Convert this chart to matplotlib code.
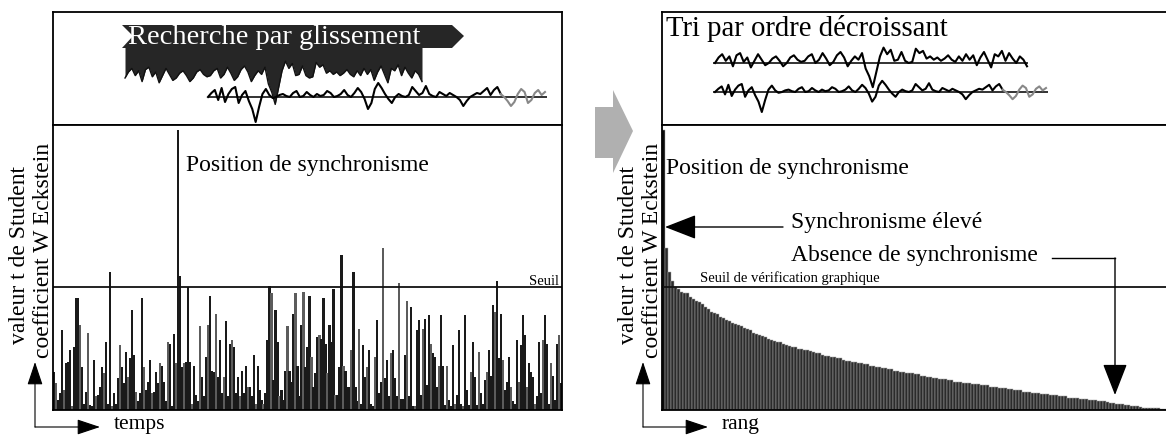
import matplotlib.pyplot as plt
import matplotlib.patches as mpatches
import numpy as np

W, H = 1166, 436
plt.rcParams['font.family'] = ['Liberation Serif', 'DejaVu Serif']

# valeurs t de Student par position (seuil = 1)
temps_values = [
    0.31, 0.22, 0.08, 0.14, 0.65, 0.16, 0.38, 0.39, 0.49, 0.03, 0.51, 0.91, 0.91, 0.69, 0.35,
    0.05, 0.15, 0.63, 0.04, 0.03, 0.41, 0.11, 0.12, 0.19, 0.35, 0.30, 0.55, 0.05, 1.12, 0.03, 0.14,
    0.05, 0.26, 0.53, 0.35, 0.22, 0.47, 0.27, 0.42, 0.81, 0.45, 0.15, 0.07, 0.14, 0.91, 0.35, 0.16, 0.23,
    0.41, 0.14, 0.15, 0.31, 0.22, 0.38, 0.36, 0.23, 0.07, 0.55, 0.54, 0.03, 0.62, 0.38, 2.28, 1.09, 0.35,
    0.38, 0.39, 1.00,
    0.39, 0.05, 0.36, 0.12, 0.07, 0.68, 0.27, 0.11, 0.43, 0.69, 0.93, 0.32, 0.31, 0.78, 0.27, 0.57, 0.14,
    0.27, 0.72, 0.11, 0.54, 0.57, 0.51, 0.14, 0.27, 0.11, 0.32, 0.14, 0.36, 0.19, 0.19,
    0.11, 0.45, 0.05, 0.36, 0.16, 0.08, 0.05, 0.14, 0.57, 1.01, 0.95, 0.24, 0.81, 0.55, 0.11, 0.16, 0.08,
    0.32, 0.68, 0.32, 0.23, 0.78, 0.95, 0.36, 0.11, 0.69, 0.96, 0.35, 0.51, 0.93, 0.43, 0.19, 0.30, 0.59,
    0.61, 0.58, 0.91, 0.54, 0.30, 0.69, 0.55, 0.98, 0.12, 0.12, 0.35, 1.26, 0.36, 0.32, 0.19, 0.19,
    0.49, 1.12, 0.19, 0.07, 0.66, 0.05, 0.53, 0.27, 0.35, 0.49, 0.05, 0.03, 0.43, 0.73, 0.14, 0.23, 1.32,
    0.26, 0.41, 0.11, 0.46, 0.49, 0.26, 0.11, 1.03, 0.09, 0.09, 0.45, 0.89, 0.11, 0.84, 0.03, 0.03, 0.65,
    0.73, 0.12, 0.66, 0.74, 0.20, 0.77, 0.54, 0.46, 0.43, 0.19, 0.36, 0.77, 0.36, 0.04, 0.36, 0.08, 0.03,
    0.53, 0.05, 0.12, 0.65, 0.05, 0.03, 0.77, 0.16, 0.04, 0.31, 0.55, 0.27, 0.04, 0.47, 0.14, 0.05,
    0.24, 0.31, 0.49, 0.28, 0.85, 0.80, 1.05, 0.42, 0.78, 0.41, 0.16, 0.23, 0.43, 0.19, 0.07, 0.05, 0.57,
    0.23, 0.53, 0.77, 0.61, 0.19, 0.38, 0.31, 0.27, 0.05, 0.11, 0.55, 0.14, 0.57, 0.77, 0.54, 0.05, 0.38,
    0.28, 0.08, 0.54, 0.61, 0.22,
]

# memes valeurs triees par rang
rang_values = [
    2.28, 1.32, 1.12, 1.05, 1.00, 0.98, 0.96, 0.95, 0.95, 0.92, 0.90, 0.89, 0.88,
    0.86, 0.84, 0.82, 0.80, 0.79, 0.78, 0.76, 0.75, 0.73, 0.72, 0.71, 0.70,
    0.69, 0.68, 0.67, 0.66, 0.65, 0.63, 0.62, 0.61, 0.60, 0.59, 0.58, 0.57,
    0.56, 0.55, 0.55, 0.54, 0.53, 0.52, 0.51, 0.51, 0.50, 0.50, 0.49, 0.49,
    0.48, 0.47, 0.46, 0.46, 0.45, 0.44, 0.44, 0.43, 0.43, 0.42, 0.42, 0.41,
    0.40, 0.40, 0.39, 0.39, 0.38, 0.38, 0.37, 0.37, 0.36, 0.36, 0.35, 0.35,
    0.34, 0.34, 0.33, 0.33, 0.32, 0.32, 0.31, 0.31, 0.30, 0.30, 0.30, 0.29,
    0.29, 0.28, 0.28, 0.27, 0.27, 0.26, 0.26, 0.25, 0.25, 0.25, 0.24, 0.24,
    0.23, 0.23, 0.23, 0.22, 0.22, 0.22, 0.21, 0.21, 0.21, 0.20, 0.20, 0.20,
    0.19, 0.19, 0.19, 0.18, 0.18, 0.18, 0.17, 0.17, 0.16, 0.16, 0.16, 0.15,
    0.15, 0.15, 0.14, 0.14, 0.14, 0.13, 0.13, 0.13, 0.12, 0.12, 0.12, 0.11,
    0.11, 0.11, 0.10, 0.10, 0.10, 0.10, 0.09, 0.09, 0.09, 0.08, 0.08, 0.08,
    0.07, 0.07, 0.07, 0.065, 0.06, 0.06, 0.05, 0.05, 0.045, 0.04, 0.04, 0.035,
    0.03, 0.03, 0.025, 0.02, 0.02, 0.02, 0.015, 0.015, 0.015, 0.01, 0.01,
]

# deux series de cernes (indices centres)
serie_a = [0, 5, 8, 2, 6, -3, 7, 9, 1, 5, -4, 2, 8, 3, -2, 0, 4, 6, 2, -3, 0, 5, 7, 3, 1, 2,
           6, 8, 0, 3, 9, 4, -2, 1, 7, 10, 5, -3, 2, 6, 3, 9, -5, -12, -22, -8, 6, 14, 8, 12,
           2, 3, 10, 2, 0, 1, 13, 9, 11, 4, 6, 3, 5, 2, 4, 7, 3, 1, 6, 2, 8, 3, 7, -2, 5, 10,
           3, -4, 8, 6, 11, 2, 9, 4, 0, 6, 3, -3]
serie_b = [0, 4, 7, -3, 9, -5, 3, 8, 10, -6, 2, 6, -4, -12, -25, -10, 3, 8, 2, -1, 0, 2, 3, 1,
           0, 4, 6, 0, 1, 5, 2, 0, 3, 1, 2, 6, 4, 0, 1, 3, 7, 2, 0, 4, 9, 5, -2, -12, -6, 8,
           14, 9, 3, -2, -6, 0, 3, 1, 0, 2, 10, 6, 2, 4, 11, 3, 1, 0, 5, 3, 1, 4, 2, 0, -3,
           -9, -4, 0, 2, 4, 3, 6, 9, 2, 7, 10, 3, 0, -4, -9, -5, 3, 8, 5, -6, -3, 4, 7, 2, 5]
n_gris = 14
seuil = 1.0


def box(x0, y0, x1, y1):
    return [x0 / W, 1 - y1 / H, (x1 - x0) / W, (y1 - y0) / H]


def clean(ax):
    ax.set_xticks([])
    ax.set_yticks([])
    for s in ax.spines.values():
        s.set_linewidth(1.3)


fig = plt.figure(figsize=(W / 100, H / 100), dpi=100)

# ---------- panneau gauche ----------
ax_tl = fig.add_axes(box(53, 12, 562, 125))
ax_tl.set_xlim(53, 562)
ax_tl.set_ylim(125, 12)
clean(ax_tl)

a = np.array(serie_a, dtype=float)
b = np.array(serie_b, dtype=float)
xa = np.linspace(125, 422, len(a))
ya = 78 - 1.2 * a
ax_tl.fill_between(xa, 47, ya, color='#262626', lw=0)
ax_tl.plot(xa, ya, color='#111111', lw=1)
banner = mpatches.Polygon([(122, 25), (452, 25), (464, 36), (452, 48), (122, 48), (133, 36)],
                          closed=True, color='#262626', lw=0)
ax_tl.add_patch(banner)
ax_tl.text(128, 37, 'Recherche par glissement', color='white', fontsize=20.5,
           ha='left', va='center')

xb = np.linspace(208, 545, len(b))
yb = 97 - 1.0 * b
ax_tl.hlines(97, 208, 547, color='#222222', lw=1.3)
k = len(b) - n_gris
ax_tl.plot(xb[:k + 1], yb[:k + 1], color='black', lw=1.5)
ax_tl.plot(xb[k:], yb[k:], color='#888888', lw=1.5)

ax_bl = fig.add_axes(box(53, 125, 562, 410))
n = len(temps_values)
cols_l = ['#5c5c5c' if i % 4 == 1 else '#1a1a1a' for i in range(n)]
ax_bl.bar(np.arange(n), temps_values, width=1.1, color=cols_l, lw=0)
ax_bl.set_xlim(-0.5, n - 0.5)
ax_bl.set_ylim(0, 285 / 123)
ax_bl.axhline(seuil, color='#111111', lw=1.3)
clean(ax_bl)

# ---------- panneau droit ----------
ax_tr = fig.add_axes(box(662, 12, 1172, 125))
ax_tr.set_xlim(662, 1172)
ax_tr.set_ylim(125, 12)
clean(ax_tr)
ax_tr.spines['right'].set_visible(False)
ax_tr.text(666, 29, 'Tri par ordre décroissant', fontsize=20.7, ha='left', va='center')

xa2 = np.linspace(715, 1027, len(a))
ax_tr.hlines(63, 713, 1028, color='#222222', lw=1.3)
ax_tr.plot(xa2, 63 - 1.1 * a, color='black', lw=1.5)
xb2 = np.linspace(715, 1046, len(b))
yb2 = 92 - 0.8 * b
ax_tr.hlines(92, 713, 1048, color='#222222', lw=1.3)
ax_tr.plot(xb2[:k + 1], yb2[:k + 1], color='black', lw=1.5)
ax_tr.plot(xb2[k:], yb2[k:], color='#888888', lw=1.5)

ax_br = fig.add_axes(box(662, 125, 1172, 410))
m = len(rang_values)
cols_r = ['#0a0a0a'] + ['#2b2b2b'] * (m - 1)
ax_br.bar(np.arange(m), rang_values, width=1.0, color=cols_r,
          edgecolor='#a8a8a8', lw=0.35)
ax_br.set_xlim(-0.5, m + 1.5)
ax_br.set_ylim(0, 285 / 123)
ax_br.axhline(seuil, color='#111111', lw=1.3)
clean(ax_br)
ax_br.spines['right'].set_visible(False)

# ---------- annotations ----------
ax_o = fig.add_axes([0, 0, 1, 1])
ax_o.set_xlim(0, W)
ax_o.set_ylim(H, 0)
ax_o.axis('off')
ax_o.patch.set_alpha(0)

fleche = mpatches.Polygon([(595, 107), (613, 107), (613, 90), (633, 131), (613, 173),
                           (613, 158), (595, 158)], closed=True, color='#b0b0b0', lw=0)
ax_o.add_patch(fleche)

ax_o.text(186, 165, 'Position de synchronisme', fontsize=17, ha='left', va='center')
ax_o.text(666, 168, 'Position de synchronisme', fontsize=17, ha='left', va='center')
ax_o.text(559, 281, 'Seuil', fontsize=10.5, ha='right', va='center')
ax_o.text(700, 278, 'Seuil de vérification graphique', fontsize=10.5, ha='left', va='center')
ax_o.text(791, 222, 'Synchronisme élevé', fontsize=17, ha='left', va='center')
ax_o.text(791, 255, 'Absence de synchronisme', fontsize=17, ha='left', va='center')

for x1, x2 in [(20, 44), (629, 652)]:
    ax_o.text(x1, 255, 'valeur t de Student', fontsize=17, rotation=90, ha='center', va='center')
    ax_o.text(x2, 250, 'coefficient W Eckstein', fontsize=17, rotation=90, ha='center', va='center')

head = dict(arrowstyle='-|>,head_length=0.9,head_width=0.3', color='black', lw=0.8,
            mutation_scale=16, shrinkA=0, shrinkB=0)
for x0, lab in [(35, 'temps'), (643, 'rang')]:
    ax_o.annotate('', xy=(x0 + 65, 427), xytext=(x0, 427), arrowprops=head)
    ax_o.annotate('', xy=(x0, 362), xytext=(x0, 427), arrowprops=head)
    ax_o.text(x0 + 79, 424, lab, fontsize=15.5, ha='left', va='center')

big = dict(arrowstyle='-|>,head_length=0.9,head_width=0.35', color='black', lw=1.0,
           mutation_scale=22, shrinkA=0, shrinkB=0)
ax_o.annotate('', xy=(665, 227), xytext=(783, 227), arrowprops=big)
ax_o.plot([1052, 1115], [258, 258], color='black', lw=1.0)
ax_o.annotate('', xy=(1115, 395), xytext=(1115, 258), arrowprops=big)

fig.savefig('out.png', dpi=100, facecolor='white')
